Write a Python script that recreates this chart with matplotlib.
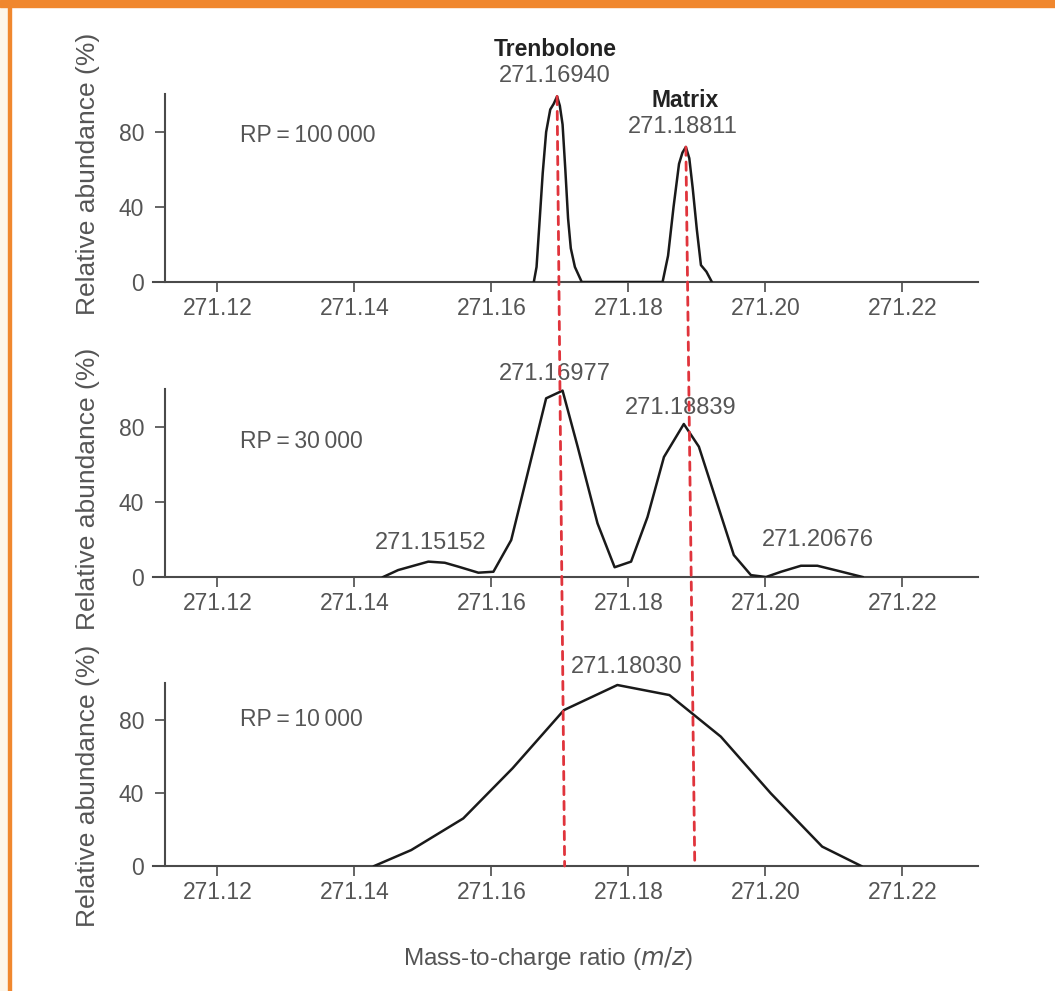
import matplotlib
matplotlib.use('Agg')
import matplotlib.pyplot as plt
from matplotlib.patches import Rectangle, ConnectionPatch

plt.rcParams['font.family'] = ['Liberation Sans', 'DejaVu Sans']

# m/z values and relative abundance (%)
mz_100k = [271.1662, 271.1666, 271.1670, 271.1675, 271.1680, 271.1686, 271.1691, 271.1696,
           271.1700, 271.1704, 271.1708, 271.1712, 271.1716, 271.1722, 271.1732,
           271.1850, 271.1858, 271.1866, 271.1874, 271.1879, 271.1884, 271.1889,
           271.1894, 271.1900, 271.1906, 271.1914, 271.1922]
ab_100k = [0, 8, 30, 58, 80, 92, 95, 99,
           94, 84, 60, 34, 18, 8, 0,
           0, 14, 40, 63, 69, 72, 66,
           50, 28, 9, 5.5, 0]

mz_30k = [271.1442, 271.1464, 271.1508, 271.1532, 271.1552, 271.1581, 271.1603,
          271.1629, 271.1680, 271.1704, 271.1726, 271.1755, 271.1780, 271.1804,
          271.1828, 271.1852, 271.1881, 271.1903, 271.1954, 271.1979, 271.2001,
          271.2023, 271.2052, 271.2076, 271.2105, 271.2142]
ab_30k = [0, 3.7, 8.2, 7.6, 5.5, 2.3, 2.8,
          19.7, 95.3, 99.4, 69.5, 28.6, 5.2, 8.2,
          32, 64, 81.6, 69.5, 11.7, 1, 0,
          2.8, 6, 6, 3.4, 0]

mz_10k = [271.1429, 271.1483, 271.1559, 271.1631, 271.1706, 271.1784,
          271.1860, 271.1935, 271.2008, 271.2083, 271.2140]
ab_10k = [0, 8.7, 26, 53.4, 85.2, 98.9, 93.4, 70.7, 39.7, 10.6, 0]

x_ticks = [271.12, 271.14, 271.16, 271.18, 271.20, 271.22]
y_ticks = [0, 40, 80]
rp_labels = ['RP\u2009=\u2009100\u2009000', 'RP\u2009=\u200930\u2009000', 'RP\u2009=\u200910\u2009000']

# peak annotations per panel: (text, m/z, abundance, bold)
notes = [
    [('Trenbolone', 271.1693, 124, True), ('271.16940', 271.1693, 110, False),
     ('Matrix', 271.1883, 97, True), ('271.18811', 271.1880, 82.5, False)],
    [('271.16977', 271.1693, 108, False), ('271.18839', 271.1876, 90, False),
     ('271.15152', 271.1512, 18, False), ('271.20676', 271.2076, 19.5, False)],
    [('271.18030', 271.1798, 108.5, False)],
]

# red guide lines: top (panel 1 peak) -> bottom (panel 3 baseline)
guide_top_mz = [271.1696, 271.1884]
guide_top_ab = [99, 72]
guide_bottom_mz = [271.1707, 271.1897]

W, H = 1055, 991
GREY = '#555555'
fig = plt.figure(figsize=(W / 100, H / 100), dpi=100)

# frame decoration
fig.add_artist(Rectangle((0, 0), 8 / W, 1, transform=fig.transFigure, color='#fdf6ea', zorder=0))
fig.add_artist(Rectangle((8 / W, 0), 3 / W, 1, transform=fig.transFigure, color='#f0872e', zorder=1))
fig.add_artist(Rectangle((0, 1 - 7 / H), 1, 7 / H, transform=fig.transFigure, color='#f0872e', zorder=1))

xl = (271.11056, 271.23105)
left_px, right_px = 152.7, 978
panels = [(282, 187.5), (577, 187.5), (866, 183)]
series = [(mz_100k, ab_100k), (mz_30k, ab_30k), (mz_10k, ab_10k)]
ylabel_y = [174, 489, 786]

axes = []
for i, ((y0, h), (mz, ab)) in enumerate(zip(panels, series)):
    ax = fig.add_axes([left_px / W, 1 - y0 / H, (right_px - left_px) / W, h / H])
    ax.plot(mz, ab, color='#1a1a1a', lw=1.8, zorder=3, solid_joinstyle='round')
    ax.set_xlim(*xl)
    ax.set_ylim(0, 100)
    ax.set_xticks(x_ticks)
    ax.set_xticklabels([f'{t:.2f}' for t in x_ticks])
    ax.set_yticks(y_ticks)
    ax.patch.set_alpha(0)
    for s in ['top', 'right']:
        ax.spines[s].set_visible(False)
    ax.spines['left'].set_position(('data', 271.11237))
    for s in ['left', 'bottom']:
        ax.spines[s].set_color('#4a4a4a')
        ax.spines[s].set_linewidth(1.5)
    ax.tick_params(axis='x', direction='out', length=7, width=1.2, color='#4a4a4a',
                   labelsize=16.5, labelcolor=GREY, pad=4)
    ax.tick_params(axis='y', direction='out', length=7, width=1.2, color='#4a4a4a',
                   labelsize=16.5, labelcolor=GREY, pad=8)
    ax.text(271.1233, [78, 72, 80][i], rp_labels[i], fontsize=16.5, color=GREY,
            ha='left', va='center')
    for txt, x, y, bold in notes[i]:
        ax.text(x, y, txt, fontsize=17 if not bold else 16.5, color='#222222' if bold else GREY,
                fontweight='bold' if bold else 'normal', ha='center', va='center', clip_on=False)
    fig.text(88 / W, 1 - ylabel_y[i] / H, 'Relative abundance (%)', rotation=90,
             fontsize=19, color=GREY, ha='center', va='center')
    axes.append(ax)

for t_mz, t_ab, b_mz in zip(guide_top_mz, guide_top_ab, guide_bottom_mz):
    con = ConnectionPatch(xyA=(t_mz, t_ab), coordsA=axes[0].transData,
                          xyB=(b_mz, 0), coordsB=axes[2].transData,
                          color='#e0343c', lw=2, linestyle=(0, (3, 2.4)), zorder=6)
    fig.add_artist(con)

fig.text(548 / W, 1 - 958 / H, 'Mass-to-charge ratio ($\\it{m/z}$)', fontsize=17.5,
         color=GREY, ha='center', va='center')

fig.savefig('out.png', dpi=100, facecolor='white')
